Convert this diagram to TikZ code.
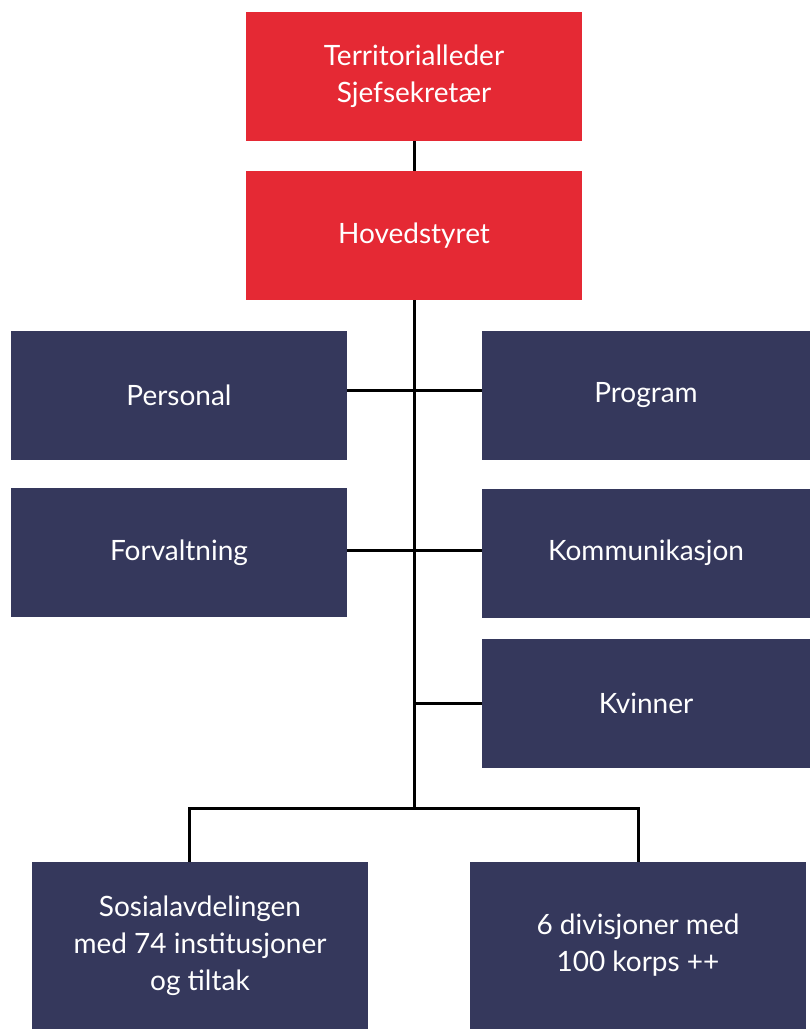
\documentclass[tikz,border=0pt]{standalone}
\usepackage{fontspec}
\setmainfont{Lato}
\usepackage{tikz}
\definecolor{armyred}{RGB}{229, 41, 52}
\definecolor{navyslate}{RGB}{53, 56, 92}

\tikzset{
  redbox/.style={fill=armyred, text=white, minimum width=336pt, minimum height=129pt, align=center, inner sep=0pt, font=\fontsize{28}{37}\selectfont},
  bluebox/.style={fill=navyslate, text=white, minimum width=336pt, minimum height=129pt, align=center, inner sep=0pt, font=\fontsize{28}{37}\selectfont},
  link/.style={draw=black, line width=3pt}
}

\begin{document}
\begin{tikzpicture}[x=1pt, y=-1pt]
            \useasboundingbox (0,0) rectangle (810,1029);
            % Leadership
            \node[redbox] (leder)   at (414, 76.5) {Territorialleder\\Sjefsekretær};
            \node[redbox] (hoved)   at (414,235.5) {Hovedstyret};
            % Departments
            \node[bluebox] (personal)    at (179,395.5) {Personal};
            \node[bluebox, minimum width=328pt] (program)     at (646,395.5) {Program};
            \node[bluebox] (forvaltning) at (179,552.5) {Forvaltning};
            \node[bluebox, minimum width=328pt] (kommunikasjon) at (646,553) {Kommunikasjon};
            \node[bluebox, minimum width=328pt] (kvinner)     at (646,703.5) {Kvinner};
            % Field
            \node[bluebox, minimum height=167pt] (sosial)     at (200,945.5) {Sosialavdelingen\\med 74 institusjoner\\og tiltak};
            \node[bluebox, minimum height=167pt] (divisjoner) at (638,945.5) {6 divisjoner med\\100 korps ++};
            % Connectors
            \coordinate (fork)  at (414,808);
            \coordinate (forkL) at (189,808);
            \coordinate (forkR) at (638,808);
            \draw[link] (leder.south) -- (hoved.north);
            \draw[link] (hoved.south) -- (fork);
            \draw[link] ([yshift=5.5pt]personal.east) -- ([yshift=5.5pt]program.west);
            \draw[link] ([yshift=2.5pt]forvaltning.east) -- ([yshift=3pt]kommunikasjon.west);
            \draw[link] (kvinner.west -| fork) -- (kvinner.west);
            \draw[link, line cap=rect] (forkL) -- (forkR);
            \draw[link] (forkL) -- (forkL |- sosial.north);
            \draw[link] (forkR) -- (divisjoner.north);
        \end{tikzpicture}
\end{document}
